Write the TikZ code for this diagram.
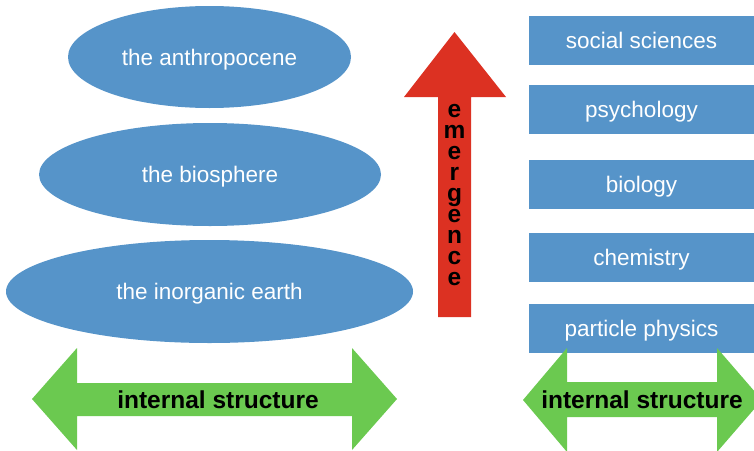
\documentclass[tikz,border=0pt]{standalone}
\usepackage{fontspec}
\setmainfont{Liberation Sans}
\usepackage{xcolor}
\usepackage{tikz}
\usetikzlibrary{shapes.geometric}
\definecolor{layerblue}{HTML}{5694C9}
\definecolor{emergred}{HTML}{DC3122}
\definecolor{structgreen}{HTML}{6BC950}

\begin{document}
\begin{tikzpicture}[
  x=1pt,y=-1pt,
  layer/.style={ellipse,fill=layerblue,text=white,inner sep=0pt,text height=16pt,text depth=0pt,font=\fontsize{22.5}{27}\selectfont},
  science/.style={rectangle,fill=layerblue,text=white,minimum width=225pt,minimum height=49pt,inner sep=0pt,text height=16pt,text depth=0pt,font=\fontsize{22.5}{27}\selectfont},
  arrowtext/.style={text=black,inner sep=0pt,font=\fontsize{24.5}{29}\selectfont\bfseries}
]
\clip (0,0) rectangle (754,450);

% levels of the earth
\node[layer,minimum width=283pt,minimum height=102pt] (anthro) at (209.5,57) {the anthropocene};
\node[layer,minimum width=342pt,minimum height=103pt] (bio) at (210,174.5) {the biosphere};
\node[layer,minimum width=407pt,minimum height=103pt] (inorg) at (209.5,291.5) {the inorganic earth};

% levels of science
\node[science] (social) at (641.5,40.5) {social sciences};
\node[science] (psych) at (641.5,109.5) {psychology};
\node[science] (biol) at (641.5,184.5) {biology};
\node[science] (chem) at (641.5,257.5) {chemistry};
\node[science] (phys) at (641.5,328.5) {particle physics};

% emergence arrow
\fill[emergred] (438,317) -- (438,97) -- (404,97) -- (454.5,32) -- (506,97) -- (471,97) -- (471,317) -- cycle;
\node[arrowtext,align=center,font=\fontsize{24.5}{21}\selectfont\bfseries] (emerg) at (454.5,195)
  {e\\m\\e\\r\\g\\e\\n\\c\\e};

% internal structure arrows
\fill[structgreen] (32,399) -- (77,348) -- (77,383) -- (352,383) -- (352,348) -- (397,399)
  -- (352,450) -- (352,416) -- (77,416) -- (77,450) -- cycle;
\node[arrowtext] (struct) at (218,400) {internal structure};

\fill[structgreen] (523,400) -- (567,348) -- (567,382) -- (717,382) -- (717,348) -- (762,400)
  -- (717,452) -- (717,417) -- (567,417) -- (567,452) -- cycle;
\node[arrowtext] (scistruct) at (642,400) {internal structure};
\end{tikzpicture}
\end{document}
